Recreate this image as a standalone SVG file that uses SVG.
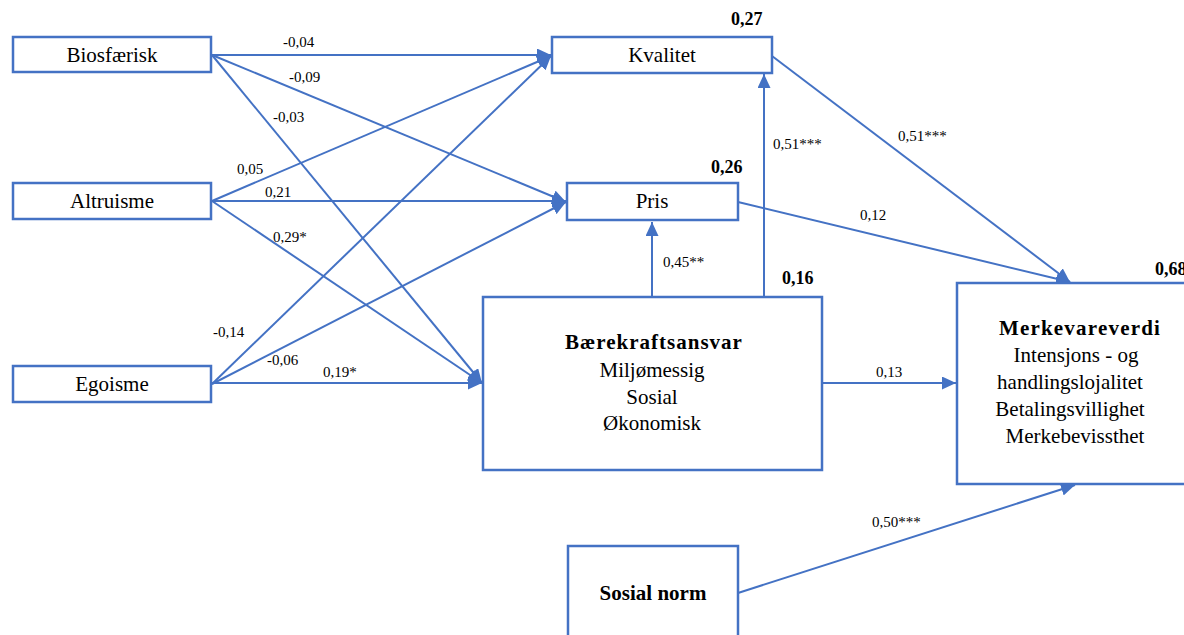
<svg xmlns="http://www.w3.org/2000/svg" width="1184" height="635" viewBox="0 0 1184 635">
<style>
.box{fill:#fff;stroke:#4472C4;stroke-width:2.5}
.ln{fill:none;stroke:#4472C4;stroke-width:2;marker-end:url(#ah)}
text{font-family:'Liberation Serif','Times New Roman',Times,'DejaVu Serif',serif;fill:#000}
.t{font-size:21px;text-anchor:middle}
.b{font-weight:bold}
.lb{font-size:15px}
.r2{font-size:18px;font-weight:bold}
</style>
<defs>
<marker id="ah" markerUnits="userSpaceOnUse" markerWidth="15" markerHeight="13" refX="14" refY="6.5" orient="auto">
<path d="M0,0 L14,6.5 L0,13 z" fill="#4472C4"/>
</marker>
</defs>
<rect width="1184" height="635" fill="#fff"/>
<g id="connectors">
<line class="ln" x1="212" y1="55" x2="551" y2="55"/>
<line class="ln" x1="212" y1="55" x2="566" y2="202"/>
<line class="ln" x1="212" y1="55" x2="482" y2="383"/>
<line class="ln" x1="212" y1="201" x2="551" y2="56"/>
<line class="ln" x1="212" y1="201" x2="566" y2="201"/>
<line class="ln" x1="212" y1="201" x2="482" y2="383"/>
<line class="ln" x1="212" y1="384" x2="551" y2="56"/>
<line class="ln" x1="212" y1="384" x2="566" y2="202"/>
<line class="ln" x1="212" y1="383" x2="482" y2="383"/>
<line class="ln" x1="652" y1="297" x2="652" y2="222"/>
<line class="ln" x1="764" y1="297" x2="764" y2="74"/>
<line class="ln" x1="772" y1="56" x2="1070" y2="282"/>
<line class="ln" x1="738" y1="202" x2="1070" y2="282"/>
<line class="ln" x1="822" y1="383" x2="956" y2="383"/>
<line class="ln" x1="738" y1="593" x2="1075" y2="485"/>
<text class="lb" x="283" y="47" font-family="Liberation Serif, serif">-0,04</text>
<text class="lb" x="289" y="82" font-family="Liberation Serif, serif">-0,09</text>
<text class="lb" x="273" y="122" font-family="Liberation Serif, serif">-0,03</text>
<text class="lb" x="237" y="174" font-family="Liberation Serif, serif">0,05</text>
<text class="lb" x="265" y="197" font-family="Liberation Serif, serif">0,21</text>
<text class="lb" x="273" y="242" font-family="Liberation Serif, serif">0,29*</text>
<text class="lb" x="213" y="337" font-family="Liberation Serif, serif">-0,14</text>
<text class="lb" x="267" y="365" font-family="Liberation Serif, serif">-0,06</text>
<text class="lb" x="323" y="377" font-family="Liberation Serif, serif">0,19*</text>
<text class="lb" x="663" y="267" font-family="Liberation Serif, serif">0,45**</text>
<text class="lb" x="773" y="149" font-family="Liberation Serif, serif">0,51***</text>
<text class="lb" x="898" y="141" font-family="Liberation Serif, serif">0,51***</text>
<text class="lb" x="860" y="220" font-family="Liberation Serif, serif">0,12</text>
<text class="lb" x="876" y="377" font-family="Liberation Serif, serif">0,13</text>
<text class="lb" x="872" y="527" font-family="Liberation Serif, serif">0,50***</text>
</g>
<g id="biosfaerisk">
<rect class="box" x="13" y="37" width="198" height="35"/>
<text class="t" x="112" y="62">Biosfærisk</text>
</g>
<g id="altruisme">
<rect class="box" x="13" y="183" width="198" height="36"/>
<text class="t" x="112" y="208">Altruisme</text>
</g>
<g id="egoisme">
<rect class="box" x="13" y="366" width="198" height="36"/>
<text class="t" x="112" y="391">Egoisme</text>
</g>
<g id="kvalitet">
<rect class="box" x="552" y="37" width="220" height="36"/>
<text class="t" x="662" y="62">Kvalitet</text>
<text class="r2" x="731" y="25">0,27</text>
</g>
<g id="pris">
<rect class="box" x="567" y="183" width="171" height="37"/>
<text class="t" x="652" y="208">Pris</text>
<text class="r2" x="711" y="173">0,26</text>
</g>
<g id="baerekraftsansvar">
<rect class="box" x="483" y="297" width="339" height="173"/>
<text class="t b" x="654" y="349" letter-spacing="1">Bærekraftsansvar</text>
<text class="t" x="652" y="377">Miljømessig</text>
<text class="t" x="652" y="404">Sosial</text>
<text class="t" x="652" y="430">Økonomisk</text>
<text class="r2" x="782" y="284">0,16</text>
</g>
<g id="merkevareverdi">
<rect class="box" x="957" y="283" width="260" height="201"/>
<text class="t b" x="1080" y="335" letter-spacing="1.2">Merkevareverdi</text>
<text class="t" x="1076" y="362">Intensjons - og</text>
<text class="t" x="1070" y="389">handlingslojalitet</text>
<text class="t" x="1070" y="416">Betalingsvillighet</text>
<text class="t" x="1075" y="443">Merkebevissthet</text>
<text class="r2" x="1155" y="275">0,68</text>
</g>
<g id="sosial-norm">
<rect class="box" x="568" y="546" width="170" height="110"/>
<text class="t b" x="653" y="600">Sosial norm</text>
</g>
</svg>
